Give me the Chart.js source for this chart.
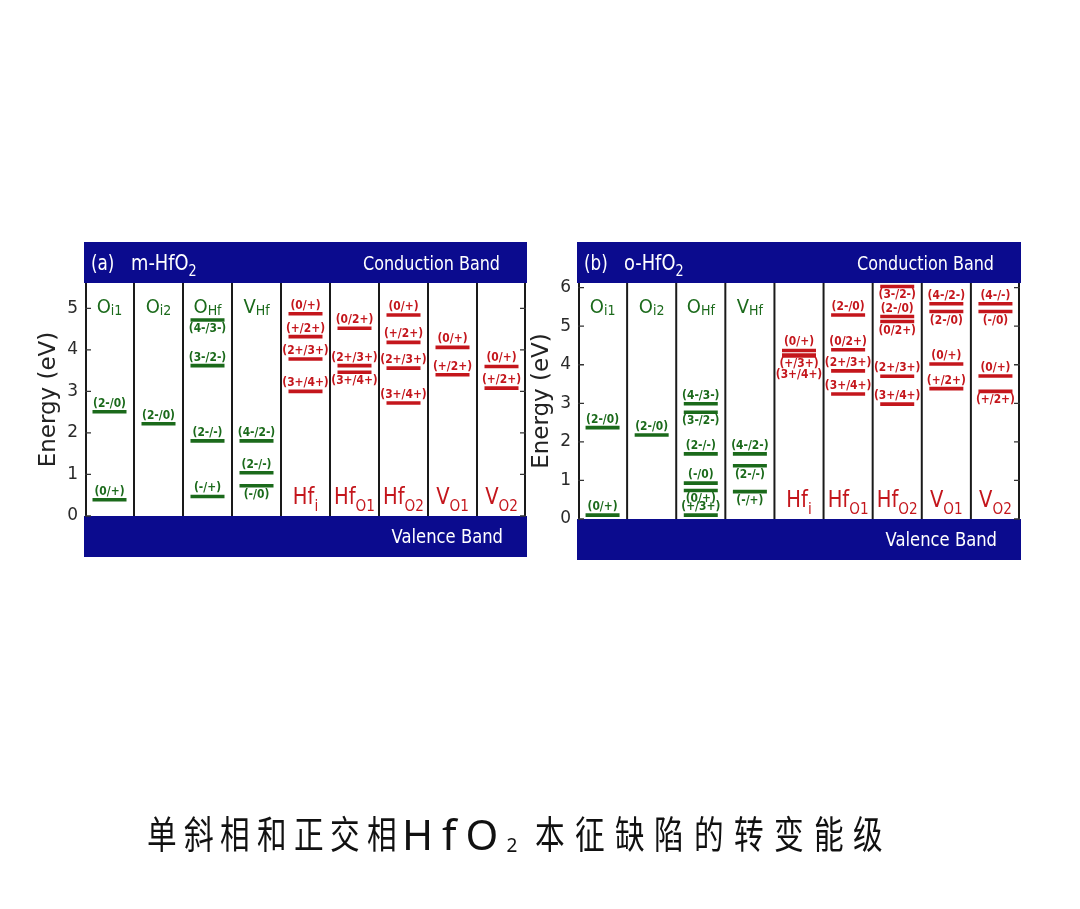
<!DOCTYPE html>
<html>
<head>
<meta charset="utf-8">
<script src="https://cdn.jsdelivr.net/npm/chart.js@4.4.1/dist/chart.umd.min.js"></script>
<style>
    html, body { margin: 0; padding: 0; background: #fff; }
    body { width: 1080px; height: 909px; position: relative; overflow: hidden; }
    canvas { position: absolute; left: 0; top: 0; }
    .cap { position: absolute; white-space: nowrap; color: #111; }
    .cj { font-family: "Noto Sans CJK SC"; font-size: 38px; line-height: 38px; }
    .cj span { display: inline-block; text-align: center; transform: scaleX(0.78); }
    .lat { font-family: "Noto Sans"; font-size: 42px; line-height: 40px; letter-spacing: 9px; }
    .lat sub { font-size: 19px; letter-spacing: 0; vertical-align: -2px; margin-left: -1px; }
</style>
</head>
<body>
<canvas id="mChart" width="1080" height="909"></canvas>
<canvas id="oChart" width="1080" height="909"></canvas>
<div class="cap cj" id="cap1" style="left:143px; top:813px;"></div>
<div class="cap lat" style="left:402px; top:814px;">HfO<sub>2</sub></div>
<div class="cap cj" id="cap2" style="left:530px; top:813px;"></div>

<script>
// defect columns
const categories = ['Oi1', 'Oi2', 'OHf', 'VHf', 'Hfi', 'HfO1', 'HfO2', 'VO1', 'VO2'];
const nameMain = ['O', 'O', 'O', 'V', 'Hf', 'Hf', 'Hf', 'V', 'V'];
const nameSub = ['i1', 'i2', 'Hf', 'Hf', 'i', 'O1', 'O2', 'O1', 'O2'];

// (a) m-HfO2 transition levels (eV above VBM)
const mLevelCol = [0, 0, 1, 2, 2, 2, 2, 3, 3, 3, 4, 4, 4, 4, 5, 5, 5, 6, 6, 6, 6, 7, 7, 8, 8];
const mLevelEnergy = [2.51, 0.39, 2.22, 4.72, 3.62, 1.81, 0.47, 1.81, 1.04, 0.73,
    4.87, 4.32, 3.78, 3.00, 4.52, 3.62, 3.46, 4.84, 4.18, 3.56, 2.72, 4.06, 3.40, 3.60, 3.08];
const mLevelTag = ['(2-/0)', '(0/+)', '(2-/0)', '(4-/3-)', '(3-/2-)', '(2-/-)', '(-/+)', '(4-/2-)', '(2-/-)', '(-/0)',
    '(0/+)', '(+/2+)', '(2+/3+)', '(3+/4+)', '(0/2+)', '(2+/3+)', '(3+/4+)', '(0/+)', '(+/2+)', '(2+/3+)', '(3+/4+)',
    '(0/+)', '(+/2+)', '(0/+)', '(+/2+)'];
// 1 = tag above the level, -1 = below, -2 = second row below
const mTagRow = [1, 1, 1, -1, 1, 1, 1, 1, 1, -1, 1, 1, 1, 1, 1, 1, -1, 1, 1, 1, 1, 1, 1, 1, 1];

// (b) o-HfO2 transition levels
const oLevelCol = [0, 0, 1, 2, 2, 2, 2, 2, 2, 3, 3, 3, 4, 4, 4, 5, 5, 5, 5, 6, 6, 6, 6, 6, 7, 7, 7, 7, 8, 8, 8, 8];
const oLevelEnergy = [2.37, 0.10, 2.18, 2.99, 2.77, 1.69, 0.93, 0.74, 0.10, 1.69, 1.38, 0.71,
    4.37, 4.25, 4.23, 5.29, 4.39, 3.84, 3.24, 6.03, 5.25, 5.12, 3.70, 2.98,
    5.58, 5.38, 4.02, 3.38, 5.58, 5.38, 3.71, 3.31];
const oLevelTag = ['(2-/0)', '(0/+)', '(2-/0)', '(4-/3-)', '(3-/2-)', '(2-/-)', '(-/0)', '(0/+)', '(+/3+)',
    '(4-/2-)', '(2-/-)', '(-/+)', '(0/+)', '(+/3+)', '(3+/4+)', '(2-/0)', '(0/2+)', '(2+/3+)', '(3+/4+)',
    '(3-/2-)', '(2-/0)', '(0/2+)', '(2+/3+)', '(3+/4+)', '(4-/2-)', '(2-/0)', '(0/+)', '(+/2+)',
    '(4-/-)', '(-/0)', '(0/+)', '(+/2+)'];
const oTagRow = [1, 1, 1, 1, -1, 1, 1, -1, 1, 1, -1, -1, 1, -1, -2, 1, 1, 1, 1,
    -1, 1, -1, 1, 1, 1, -1, 1, 1, 1, -1, 1, -1];

const captionA = '单斜相和正交相';
const captionB = '本征缺陷的转变能级';

const BAND = '#0b0b8e';
const GREEN = '#1b6a1b';
const RED = '#c4161c';
const FONT = '"DejaVu Sans"';

function squeezeText(ctx, s, x, y, font, color, align, sx) {
    ctx.save();
    ctx.font = font;
    ctx.fillStyle = color;
    ctx.textAlign = 'left';
    ctx.textBaseline = 'alphabetic';
    const w = ctx.measureText(s).width * sx;
    const x0 = align === 'center' ? x - w / 2 : (align === 'right' ? x - w : x);
    ctx.translate(x0, y);
    ctx.scale(sx, 1);
    ctx.fillText(s, 0, 0);
    ctx.restore();
    return w;
}

function subText(ctx, main, sub, cx, y, size, subSize, subDrop, color, sx) {
    ctx.save();
    ctx.font = size + 'px ' + FONT;
    const w1 = ctx.measureText(main).width * sx;
    ctx.font = subSize + 'px ' + FONT;
    const w2 = ctx.measureText(sub).width * sx;
    ctx.restore();
    const x0 = cx - (w1 + w2) / 2;
    squeezeText(ctx, main, x0, y, size + 'px ' + FONT, color, 'left', sx);
    squeezeText(ctx, sub, x0 + w1, y + subDrop, subSize + 'px ' + FONT, color, 'left', sx);
}

const bandPlugin = {
    id: 'bandDiagram',
    afterDraw(chart) {
        const { ctx, chartArea: a, scales: { x, y } } = chart;
        const o = chart.options.plugins.bandDiagram;
        const w = a.right - a.left;

        ctx.save();
        ctx.fillStyle = BAND;
        ctx.fillRect(a.left - 1, a.top - 41, w + 2, 41);
        ctx.fillRect(a.left - 1, a.bottom, w + 2, 41);

        // column dividers and frame
        ctx.strokeStyle = '#1a1a1a';
        ctx.lineWidth = 2;
        for (let i = 0; i <= categories.length; i++) {
            let px;
            if (i === 0) px = a.left + 1;
            else if (i === categories.length) px = a.right - 1;
            else px = (x.getPixelForValue(i - 1) + x.getPixelForValue(i)) / 2;
            ctx.beginPath();
            ctx.moveTo(px, a.top);
            ctx.lineTo(px, a.bottom);
            ctx.stroke();
        }

        // inward ticks on both sides
        ctx.strokeStyle = '#333';
        ctx.lineWidth = 1.3;
        y.ticks.forEach(t => {
            const py = y.getPixelForValue(t.value);
            ctx.beginPath();
            ctx.moveTo(a.left, py);
            ctx.lineTo(a.left + 6, py);
            ctx.moveTo(a.right - 6, py);
            ctx.lineTo(a.right, py);
            ctx.stroke();
        });
        ctx.restore();

        // band texts
        squeezeText(ctx, o.tag, a.left + 6, a.top - 13, '21px ' + FONT, '#fff', 'left', 0.8);
        const pw = squeezeText(ctx, o.phase, a.left + 46, a.top - 13, '21px ' + FONT, '#fff', 'left', 0.85);
        squeezeText(ctx, '2', a.left + 46 + pw, a.top - 7, '15px ' + FONT, '#fff', 'left', 0.85);
        squeezeText(ctx, 'Conduction Band', a.right - 26, a.top - 13, '20px ' + FONT, '#fff', 'right', 0.8);
        squeezeText(ctx, 'Valence Band', a.right - 23, a.bottom + 27, '20px ' + FONT, '#fff', 'right', 0.82);

        // defect names
        categories.forEach((c, i) => {
            const cx = x.getPixelForValue(i);
            if (i < 4) {
                subText(ctx, nameMain[i], nameSub[i], cx, a.top + 30, 20, 14, 2, GREEN, 0.9);
            } else {
                subText(ctx, nameMain[i], nameSub[i], cx, a.bottom - 12, 23, 16, 7, RED, 0.85);
            }
        });

        // transition level tags
        const ds = chart.data.datasets[0];
        const meta = chart.getDatasetMeta(0);
        meta.data.forEach((pt, i) => {
            const row = ds.tagRow[i];
            const ty = row > 0 ? pt.y - 5 : pt.y + 12 + (row === -2 ? 10 : 0);
            const col = ds.pointBorderColor[i];
            squeezeText(ctx, ds.tags[i], pt.x, ty, 'bold 11.5px ' + FONT, col, 'center', 0.93);
        });
    }
};

function makePanel(id, cols, energies, tags, rows, yMax, pad, tag, phase) {
    const colors = cols.map(c => c < 4 ? GREEN : RED);
    return new Chart(document.getElementById(id), {
        type: 'line',
        data: {
            labels: categories,
            datasets: [{
                data: energies.map((e, i) => ({ x: categories[cols[i]], y: e })),
                tags: tags,
                tagRow: rows,
                showLine: false,
                pointStyle: 'line',
                pointRadius: 17,
                pointHoverRadius: 17,
                pointBorderWidth: 3.6,
                pointHoverBorderWidth: 3.6,
                pointBorderColor: colors,
                pointBackgroundColor: colors
            }]
        },
        options: {
            responsive: false,
            animation: false,
            events: [],
            layout: { padding: pad },
            plugins: {
                legend: { display: false },
                tooltip: { enabled: false },
                bandDiagram: { tag: tag, phase: phase }
            },
            scales: {
                x: {
                    type: 'category',
                    offset: true,
                    display: false
                },
                y: {
                    min: 0,
                    max: yMax,
                    afterFit: (scale) => { scale.width = 50; },
                    grid: { display: false, drawTicks: false },
                    border: { display: false },
                    ticks: {
                        stepSize: 0.5,
                        includeBounds: false,
                        padding: 7,
                        color: '#2a2a2a',
                        font: { family: 'DejaVu Sans', size: 17 },
                        callback: v => Number.isInteger(v) ? v : ''
                    },
                    title: {
                        display: true,
                        text: 'Energy (eV)',
                        color: '#222',
                        padding: 0,
                        font: { family: 'DejaVu Sans', size: 23 }
                    }
                }
            }
        },
        plugins: [bandPlugin]
    });
}

makePanel('mChart', mLevelCol, mLevelEnergy, mLevelTag, mTagRow, 5.61,
    { left: 35, top: 283, right: 554, bottom: 393 }, '(a)', 'm-HfO');
makePanel('oChart', oLevelCol, oLevelEnergy, oLevelTag, oTagRow, 6.12,
    { left: 528, top: 283, right: 60, bottom: 390 }, '(b)', 'o-HfO');

function fillCaption(id, text, pitch) {
    const el = document.getElementById(id);
    for (const ch of text) {
        const s = document.createElement('span');
        s.textContent = ch;
        s.style.width = pitch + 'px';
        el.appendChild(s);
    }
}
fillCaption('cap1', captionA, 36.7);
fillCaption('cap2', captionB, 39.8);
</script>
</body>
</html>
